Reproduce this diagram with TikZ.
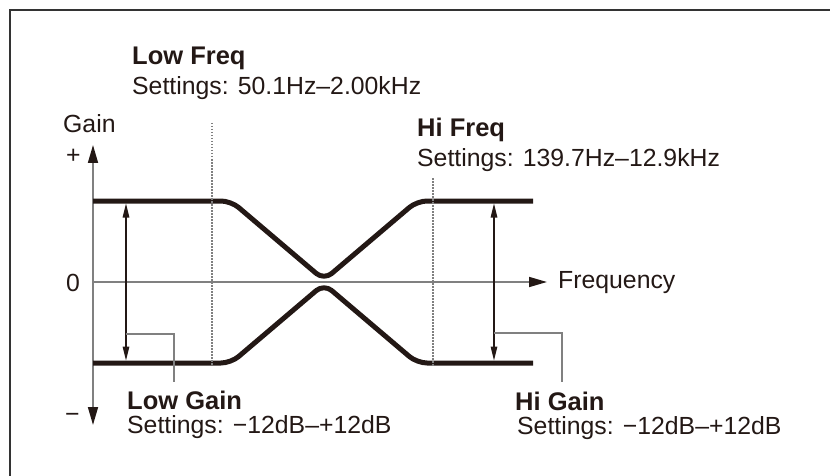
\documentclass[tikz,border=0pt]{standalone}
\usepackage{fontspec}
\setmainfont{Liberation Sans}
\usetikzlibrary{arrows.meta}
\definecolor{ink}{HTML}{231815}
\definecolor{axisgray}{HTML}{808080}
\definecolor{framegray}{HTML}{333333}

\begin{document}
\begin{tikzpicture}[x=1pt, y=-1pt,
  lbl/.style={anchor=base west, inner sep=0pt, text=ink,
              font=\fontsize{24.8}{28}\selectfont},
  ttl/.style={lbl, font=\fontsize{25.5}{28}\selectfont\bfseries},
  curve/.style={ink, line width=5pt, rounded corners=10pt},
  axis/.style={axisgray, line width=1.7pt,
               -{Triangle[length=18pt, width=10pt, color=ink]}},
  span/.style={ink, line width=1.3pt,
               {Triangle[length=14pt, width=6.5pt]}-{Triangle[length=14pt, width=6.5pt]}},
  leader/.style={axisgray, line width=1.2pt},
  marker/.style={axisgray, line width=1.3pt, dash pattern=on 1.5pt off 1.5pt}]
  \useasboundingbox (0,0) rectangle (830,476);
  \draw[framegray, line width=1.8pt] (10,476) -- (10,10) -- (830,10);
  % axes
  \coordinate (origin) at (93,282);
  \coordinate (ytop) at (93,145);
  \coordinate (ybot) at (93,425);
  \coordinate (xend) at (547,282);
  \draw[axis] (origin) -- (ytop);
  \draw[axis] (origin) -- (ybot);
  \draw[axis] (origin) -- (xend);
  \node[lbl] (gain) at (63,133) {Gain};
  \node[lbl] (plus) at (66,164) {+};
  \node[lbl] (zero) at (66,291) {0};
  \node[lbl] (minus) at (65,422) {−};
  \node[lbl] (freq) at (558,288) {Frequency};
  % curves
  \draw[curve] (93,201) -- (231,201) -- (324,280) -- (417,201) -- (533,201);
  \draw[curve] (93,363) -- (231,363) -- (324,284) -- (417,363) -- (533,363);
  % frequency markers
  \draw[marker] (212,123) -- (212,366);
  \draw[marker] (433,178) -- (433,366);
  \node[ttl] (lowfreq) at (132,65) {Low Freq};
  \node[lbl] (lowfreqset) at (132,95) {Settings: 50.1Hz–2.00kHz};
  \node[ttl] (hifreq) at (417,137) {Hi Freq};
  \node[lbl] (hifreqset) at (417,166) {Settings: 139.7Hz–12.9kHz};
  % gain ranges
  \coordinate (lowtop) at (126,203.5);
  \coordinate (lowbot) at (126,360.5);
  \coordinate (hitop) at (494,203.5);
  \coordinate (hibot) at (494,360.5);
  \draw[span] (lowtop) -- (lowbot);
  \draw[span] (hitop) -- (hibot);
  \coordinate (lowtap) at (126,334);
  \coordinate (hitap) at (494,333);
  \draw[leader] (lowtap) -- (174,334) -- (174,382);
  \draw[leader] (hitap) -- (562,333) -- (562,382);
  \node[ttl] (lowgain) at (127,409) {Low Gain};
  \node[lbl] (lowgainset) at (127,433) {Settings: −12dB–+12dB};
  \node[ttl] (higain) at (515,410) {Hi Gain};
  \node[lbl] (higainset) at (517,434) {Settings: −12dB–+12dB};
\end{tikzpicture}
\end{document}
